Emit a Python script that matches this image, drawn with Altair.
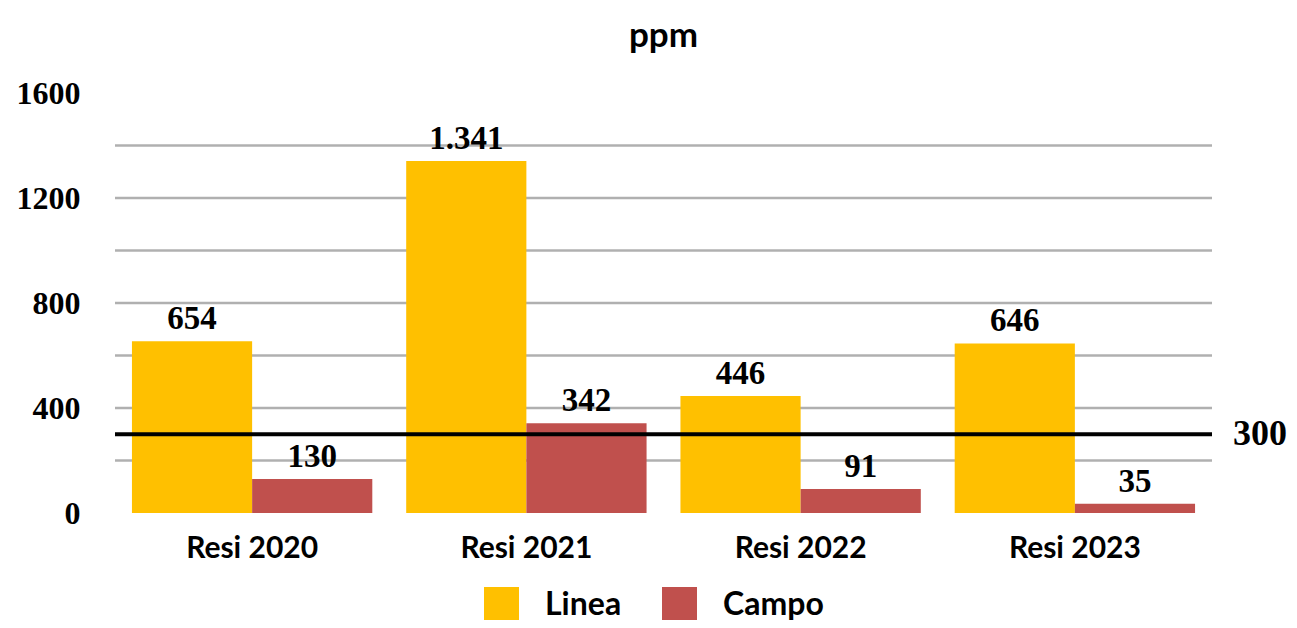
import altair as alt
import pandas as pd

categories = ["Resi 2020", "Resi 2021", "Resi 2022", "Resi 2023"]
series_names = ["Linea", "Campo"]
linea = [654, 1341, 446, 646]
campo = [130, 342, 91, 35]
grid_values = [200, 400, 600, 800, 1000, 1200, 1400]
axis_values = [0, 400, 800, 1200, 1600]
threshold = [300]
colors = ["#FFC000", "#C0504D"]


def fmt(v):
    return f"{v:,}".replace(",", ".")


rows = []
for c, a, b in zip(categories, linea, campo):
    rows.append({"cat": c, "serie": "Linea", "val": a, "lbl": fmt(a)})
    rows.append({"cat": c, "serie": "Campo", "val": b, "lbl": fmt(b)})
df = pd.DataFrame(rows)
grid_df = pd.DataFrame({"g": grid_values})
thr_df = pd.DataFrame({"t": threshold, "lbl": [str(t) for t in threshold]})

yscale = alt.Scale(domain=[0, 1600], nice=False, zero=True)
xscale = alt.Scale(paddingInner=0.1236, paddingOuter=0.0618)

x_enc = alt.X("cat:N", sort=categories, scale=xscale, title=None,
              axis=alt.Axis(labelFont="Lato", labelFontSize=30, labelFontWeight="bold",
                            labelColor="#000000", ticks=False, domain=False,
                            labelPadding=20, labelAngle=0, grid=False))
y_enc = alt.Y("val:Q", scale=yscale, title=None,
              axis=alt.Axis(values=axis_values, format="d", labelFont="Liberation Serif",
                            labelFontSize=32, labelFontWeight="bold",
                            labelColor="#000000", ticks=False, domain=False,
                            grid=False, labelPadding=35))
xoff = alt.XOffset("serie:N", sort=series_names,
                   scale=alt.Scale(paddingInner=0, paddingOuter=0))

grid = alt.Chart(grid_df).mark_rule(color="#B0B0B0", strokeWidth=2.5).encode(
    y=alt.Y("g:Q", scale=yscale)
)

bars = alt.Chart(df).mark_bar().encode(
    x=x_enc,
    xOffset=xoff,
    y=y_enc,
    color=alt.Color("serie:N", sort=series_names,
                    scale=alt.Scale(domain=series_names, range=colors),
                    legend=alt.Legend(title=None, orient="none", legendX=369, legendY=494,
                                      direction="horizontal", symbolType="square",
                                      symbolSize=1225, symbolStrokeWidth=0,
                                      symbolOpacity=1, labelFont="Lato",
                                      labelFontSize=32, labelFontWeight="bold",
                                      labelColor="#000000", labelOffset=26,
                                      columnPadding=40, padding=0)),
)

texts = alt.Chart(df).mark_text(font="Liberation Serif", fontSize=33, fontWeight="bold",
                                color="#000000", baseline="alphabetic", dy=-12).encode(
    x=alt.X("cat:N", sort=categories, scale=xscale),
    xOffset=xoff,
    y=alt.Y("val:Q", scale=yscale),
    text="lbl:N",
)

thr_rule = alt.Chart(thr_df).mark_rule(color="#000000", strokeWidth=4).encode(
    y=alt.Y("t:Q", scale=yscale)
)
thr_text = alt.Chart(thr_df).mark_text(font="Liberation Serif", fontSize=36, fontWeight="bold",
                                       color="#000000", align="left", baseline="middle").encode(
    x=alt.value(1118),
    y=alt.Y("t:Q", scale=yscale),
    text="lbl:N",
)

chart = alt.layer(grid, bars, texts, thr_rule, thr_text).properties(
    width=1097,
    height=420,
    background="#FFFFFF",
    title=alt.TitleParams("ppm", font="Lato", fontSize=35, fontWeight="bold",
                          color="#000000", anchor="middle", frame="group", offset=23),
    autosize=alt.AutoSizeParams(type="none"),
    padding={"left": 107, "top": 85, "right": 77, "bottom": 107},
).configure_view(strokeWidth=0, stroke="transparent")

chart.save("out.html", embed_options={"renderer": "svg", "actions": False})
